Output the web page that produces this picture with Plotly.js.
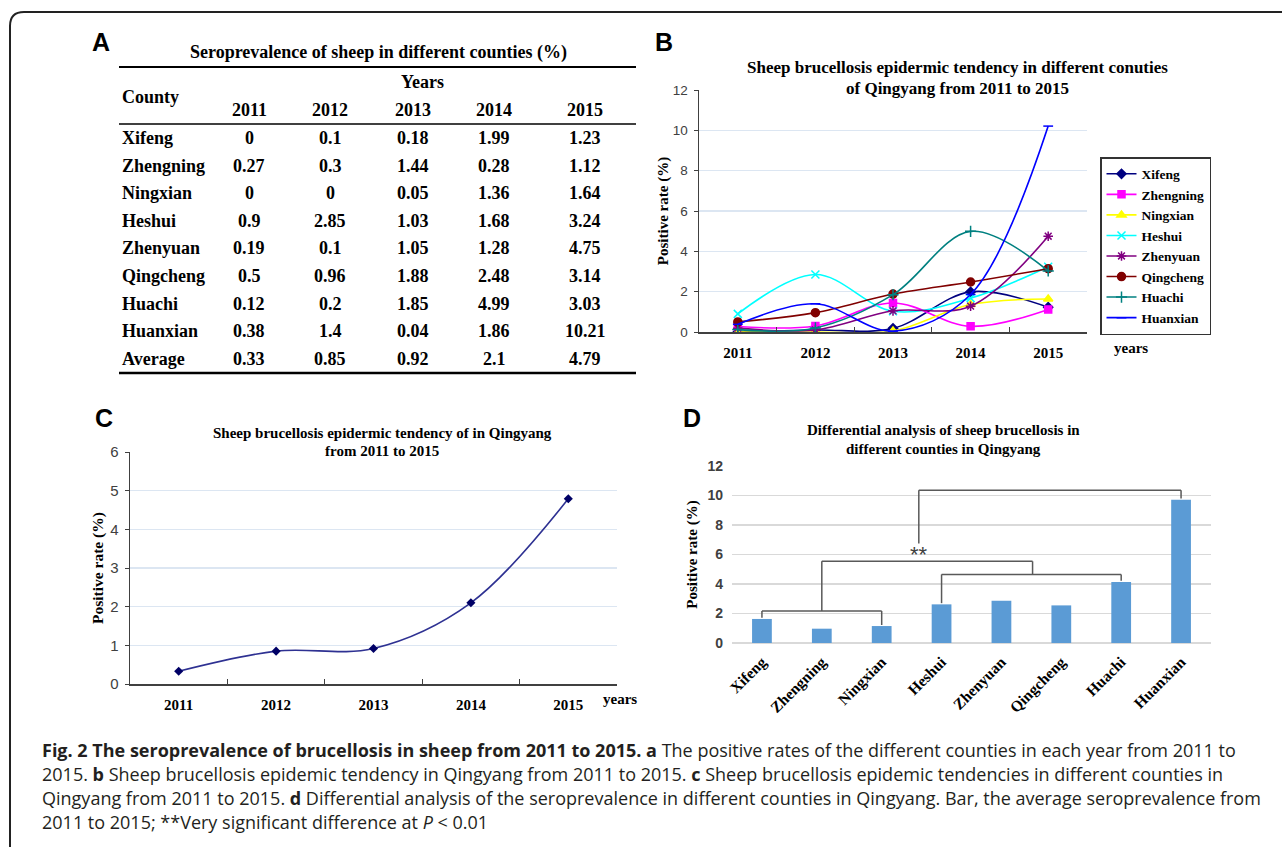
<!DOCTYPE html>
<html><head><meta charset="utf-8">
<script src="https://cdn.plot.ly/plotly-3.0.1.min.js"></script>
<style>html,body{margin:0;padding:0;background:#fff}#chart{width:1282px;height:847px}</style>
</head><body><div id="chart"></div>
<script>
// ---------------- data ----------------
const years = ['2011', '2012', '2013', '2014', '2015'];
const counties = ['Xifeng', 'Zhengning', 'Ningxian', 'Heshui', 'Zhenyuan', 'Qingcheng', 'Huachi', 'Huanxian'];
const xifeng = [0, 0.1, 0.18, 1.99, 1.23];
const zhengning = [0.27, 0.3, 1.44, 0.28, 1.12];
const ningxian = [0, 0, 0.05, 1.36, 1.64];
const heshui = [0.9, 2.85, 1.03, 1.68, 3.24];
const zhenyuan = [0.19, 0.1, 1.05, 1.28, 4.75];
const qingcheng = [0.5, 0.96, 1.88, 2.48, 3.14];
const huachi = [0.12, 0.2, 1.85, 4.99, 3.03];
const huanxian = [0.38, 1.4, 0.04, 1.86, 10.21];
const average = [0.33, 0.85, 0.92, 2.1, 4.79];
const countyBarValues = [1.63, 0.97, 1.15, 2.62, 2.87, 2.55, 4.14, 9.72];

// ---------------- helpers ----------------
const W = 1282, H = 847;
const px = v => v / W;
const py = v => 1 - v / H;
const SERIF = 'Liberation Serif, Times New Roman, serif';
const SANS = 'Liberation Sans, Arial, sans-serif';

const seriesRows = [xifeng, zhengning, ningxian, heshui, zhenyuan, qingcheng, huachi, huanxian];
const seriesStyle = [
  {color: '#000080', symbol: 'diamond', size: 7},
  {color: '#FF00FF', symbol: 'square', size: 7},
  {color: '#FFFF00', symbol: 'triangle-up', size: 8},
  {color: '#00FFFF', symbol: 'x-thin-open', size: 8},
  {color: '#800080', symbol: 'asterisk-open', size: 8},
  {color: '#800000', symbol: 'circle', size: 8},
  {color: '#008080', symbol: 'cross-thin-open', size: 8},
  {color: '#0000FF', symbol: 'line-ew-open', size: 7}
];

const traces = [];

// ---- Panel B: county lines ----
counties.forEach((c, i) => {
  const st = seriesStyle[i];
  traces.push({
    type: 'scatter', mode: 'lines+markers', name: c,
    x: years, y: seriesRows[i], xaxis: 'x', yaxis: 'y',
    line: {color: st.color, width: 1.6, shape: 'spline', smoothing: 1},
    marker: {color: st.color, symbol: st.symbol, size: st.size, line: {color: st.color, width: 1.5}}
  });
});

// ---- Panel C: average line ----
traces.push({
  type: 'scatter', mode: 'lines+markers', name: 'Average', showlegend: false,
  x: years, y: average, xaxis: 'x2', yaxis: 'y2',
  line: {color: '#2E3192', width: 1.6, shape: 'spline', smoothing: 1},
  marker: {color: '#000066', symbol: 'diamond', size: 7}
});

// ---- Panel D: bars ----
traces.push({
  type: 'bar', name: 'Mean', showlegend: false,
  x: counties, y: countyBarValues, xaxis: 'x3', yaxis: 'y3',
  width: 0.33, marker: {color: '#5B9BD5'}
});

const catAxis = (domain, anchor) => ({
  domain: domain, anchor: anchor, type: 'category', range: [-0.5, 4.5],
  tickson: 'boundaries', ticks: 'inside', ticklen: 5, tickcolor: '#404040', tickwidth: 1.2,
  showline: true, linecolor: '#404040', linewidth: 1.5, showgrid: false, zeroline: false,
  tickfont: {family: SERIF, size: 15, color: '#000', weight: 'bold'}, ticklabelstandoff: 6,
  fixedrange: true
});
const valAxis = (domain, anchor, range, dtick, standoff, tsize, titleSize) => ({
  domain: domain, anchor: anchor, range: range, dtick: dtick,
  showline: true, linecolor: '#404040', linewidth: 1.5,
  ticks: 'outside', ticklen: 4, tickcolor: '#404040',
  showgrid: true, gridcolor: '#dce6f2', gridwidth: 1.2, zeroline: false,
  tickfont: {family: SANS, size: tsize, color: '#404040'}, ticklabelstandoff: 3,
  title: {text: '<b>Positive rate (%)</b>', font: {family: SERIF, size: titleSize, color: '#000'}, standoff: standoff},
  fixedrange: true
});

const ann = [];
const addText = (text, x, y, size, opts) => ann.push(Object.assign({
  text: text, x: px(x), y: py(y), xref: 'paper', yref: 'paper', showarrow: false,
  xanchor: 'center', yanchor: 'middle', font: {family: SERIF, size: size, color: '#000'}
}, opts || {}));

// ---- Panel A: table (text cells from the data arrays) ----
const tableRowNames = counties.concat(['Average']);
const tableRows = seriesRows.concat([average]);
const colCenters = [249, 330, 413, 494, 585];
const rowTop = 138, rowStep = 27.6;
addText('<b>Seroprevalence of sheep in different counties (%)</b>', 378, 53, 18);
addText('<b>Years</b>', 422, 82, 18);
addText('<b>County</b>', 120, 97, 18, {xanchor: 'left'});
years.forEach((y, j) => addText('<b>' + y + '</b>', colCenters[j], 110, 18));
tableRowNames.forEach((name, i) => {
  const yy = rowTop + rowStep * i;
  addText('<b>' + name + '</b>', 120, yy, 18, {xanchor: 'left'});
  tableRows[i].forEach((v, j) => addText('<b>' + String(v) + '</b>', colCenters[j], yy, 18));
});

// panel letters
[['A', 101, 42], ['B', 664, 42], ['C', 104, 418], ['D', 692, 418]].forEach(l =>
  addText('<b>' + l[0] + '</b>', l[1], l[2], 25, {font: {family: SANS, size: 25, color: '#000'}}));

// panel B titles
addText('<b>Sheep brucellosis epidermic tendency in different conuties</b>', 957, 68, 17);
addText('<b>of Qingyang from 2011 to 2015</b>', 957, 88, 17);
addText('<b>years</b>', 1131, 348, 15);

// panel C titles
addText('<b>Sheep brucellosis epidermic tendency of in Qingyang</b>', 382, 433, 15);
addText('<b>from 2011 to 2015</b>', 382, 451, 15);
addText('<b>years</b>', 620, 699, 15);

// panel D titles
addText('<b>Differential analysis of sheep brucellosis in</b>', 943, 430, 15);
addText('<b>different counties in Qingyang</b>', 943, 449, 15);
ann.push({text: '**', x: 2.62, y: 6.0, xref: 'x3', yref: 'y3', showarrow: false,
  font: {family: SANS, size: 22, color: '#404040'}, xanchor: 'center', yanchor: 'middle'});

// caption
const capFont = {family: 'Open Sans, Liberation Sans, sans-serif', size: 18, color: '#231f20'};
const captionLines = [
  '<b>Fig. 2 The seroprevalence of brucellosis in sheep from 2011 to 2015. a</b> The positive rates of the different counties in each year from 2011 to',
  '2015. <b>b</b> Sheep brucellosis epidemic tendency in Qingyang from 2011 to 2015. <b>c</b> Sheep brucellosis epidemic tendencies in different counties in',
  'Qingyang from 2011 to 2015. <b>d</b> Differential analysis of the seroprevalence in different counties in Qingyang. Bar, the average seroprevalence from',
  '2011 to 2015; **Very significant difference at <i>P</i> &lt; 0.01'
];
captionLines.forEach((t, i) => addText(t, 40, 750 + 24 * i, 18, {xanchor: 'left', font: capFont}));

// shapes
const shapes = [];
// border (rounded corner)
shapes.push({type: 'path', xref: 'paper', yref: 'paper',
  path: `M ${px(10)},${py(900)} L ${px(10)},${py(26)} Q ${px(10)},${py(12)} ${px(24)},${py(12)} L ${px(1300)},${py(12)}`,
  line: {color: '#222', width: 2}});
// table rules
[[67, 2], [124, 1.5], [373, 2.5]].forEach(r => shapes.push({type: 'line', xref: 'paper', yref: 'paper',
  x0: px(119), x1: px(636), y0: py(r[0]), y1: py(r[0]), line: {color: '#000', width: r[1]}}));
// brackets on panel D
const bracketPaths = [
  [[0, 1.72], [0, 2.17], [2, 2.17], [2, 1.22]],
  [[1, 2.17], [1, 5.54], [4.52, 5.54], [4.52, 4.65]],
  [[3, 2.7], [3, 4.65], [6, 4.65], [6, 4.22]],
  [[2.62, 6.75], [2.62, 10.35], [7, 10.35], [7, 9.8]]
];
bracketPaths.forEach(p => {
  for (let k = 0; k < p.length - 1; k++) {
    shapes.push({type: 'line', xref: 'x3', yref: 'y3', x0: p[k][0], y0: p[k][1], x1: p[k + 1][0], y1: p[k + 1][1],
      line: {color: '#595959', width: 1.5}});
  }
});

const layout = {
  width: W, height: H, margin: {l: 0, r: 0, t: 0, b: 0},
  paper_bgcolor: '#fff', plot_bgcolor: 'rgba(0,0,0,0)', showlegend: true,
  xaxis: catAxis([px(699), px(1087)], 'y'),
  yaxis: valAxis([py(332), py(90)], 'x', [0, 12], 2, 0, 13.5, 15),
  xaxis2: catAxis([px(130), px(617)], 'y2'),
  yaxis2: valAxis([py(684), py(452)], 'x2', [0, 6], 1, 2, 15, 15.5),
  xaxis3: {domain: [px(732), px(1211)], anchor: 'y3', type: 'category', range: [-0.5, 7.5],
    showline: false, ticks: '', showgrid: false, zeroline: false, tickangle: -45,
    tickfont: {family: SERIF, size: 15.5, color: '#000', weight: 'bold'}, ticklabelstandoff: 6, fixedrange: true},
  yaxis3: {domain: [py(643), py(466)], anchor: 'x3', range: [0, 12], dtick: 2,
    showline: false, ticks: '', showgrid: true, gridcolor: '#d9d9d9', gridwidth: 1.2,
    zeroline: true, zerolinecolor: '#d9d9d9', zerolinewidth: 1.5,
    tickfont: {family: SANS, size: 14, color: '#404040', weight: 'bold'}, ticklabelstandoff: 8,
    title: {text: '<b>Positive rate (%)</b>', font: {family: SERIF, size: 15, color: '#000'}, standoff: 6},
    fixedrange: true},
  legend: {x: px(1100), y: py(157), xanchor: 'left', yanchor: 'top',
    bordercolor: '#333', borderwidth: 1.5, bgcolor: '#fff',
    font: {family: SERIF, size: 13.5, color: '#000', weight: 'bold'}, tracegroupgap: 0},
  annotations: ann,
  shapes: shapes
};

Plotly.newPlot('chart', traces, layout, {displayModeBar: false, staticPlot: true});
</script>
</body></html>
